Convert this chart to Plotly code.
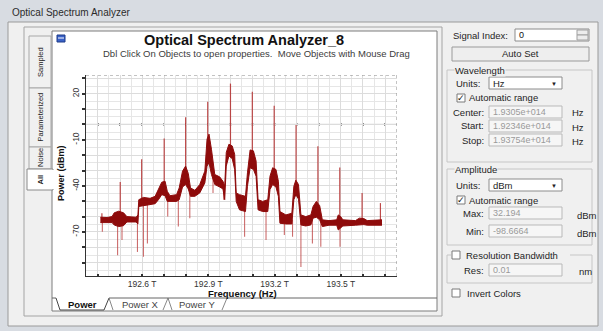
import plotly.graph_objects as go

# ---------------- spectrum data (frequency in THz, power in dBm) ----------------
# envelope of the dense measured trace
band_freq = [192.411, 192.441, 192.464, 192.474, 192.494, 192.516, 192.531, 192.573, 192.581, 192.585,
             192.606, 192.636, 192.659, 192.674, 192.689, 192.704, 192.714, 192.726, 192.756, 192.768,
             192.783, 192.797, 192.809, 192.819, 192.839, 192.861, 192.884, 192.894, 192.903, 192.914,
             192.929, 192.951, 192.966, 192.974, 192.981, 192.993, 193.008, 193.019, 193.026, 193.041,
             193.068, 193.077, 193.089, 193.104, 193.116, 193.125, 193.146, 193.169, 193.179, 193.191,
             193.206, 193.217, 193.224, 193.251, 193.278, 193.287, 193.296, 193.308, 193.319, 193.341,
             193.364, 193.374, 193.389, 193.404, 193.416, 193.446, 193.481, 193.488, 193.499, 193.509,
             193.566, 193.584, 193.604, 193.619, 193.686]
band_upper = [-60.4, -60.6, -60.0, -57.5, -56.5, -57.5, -60.0, -60.4, -58.9, -49.0,
              -47.5, -48.1, -46.8, -42.0, -37.6, -37.0, -43.5, -46.4, -45.7, -41.3,
              -30.4, -27.1, -31.9, -41.3, -42.9, -39.1, -30.4, -9.6, -6.3, -16.2,
              -32.6, -34.1, -37.0, -40.2, -18.3, -12.9, -14.0, -19.4, -44.6, -45.7,
              -46.8, -31.5, -16.6, -17.2, -23.8, -49.0, -50.1, -49.0, -33.7, -28.2,
              -29.3, -37.0, -56.7, -58.9, -57.8, -40.2, -36.3, -39.1, -58.9, -60.0,
              -58.9, -53.4, -50.1, -52.9, -62.1, -62.6, -62.1, -58.9, -60.0, -62.1,
              -62.6, -61.0, -61.3, -62.6, -62.1]
band_lower = [-63.9, -63.7, -63.9, -65.5, -66.5, -65.9, -63.5, -63.5, -64.8, -53.4,
              -52.9, -52.5, -51.6, -49.0, -45.7, -46.4, -50.1, -50.1, -50.1, -49.0,
              -40.7, -39.1, -42.0, -46.8, -46.8, -44.6, -38.1, -27.1, -24.9, -32.6,
              -39.1, -40.7, -42.0, -49.0, -27.1, -20.5, -22.3, -29.3, -50.1, -55.6,
              -56.7, -40.2, -28.2, -29.3, -33.7, -55.6, -56.7, -56.7, -42.4, -39.1,
              -40.7, -46.8, -64.3, -64.8, -64.8, -49.0, -45.7, -48.6, -65.4, -66.1,
              -65.4, -61.0, -60.4, -62.1, -66.5, -65.6, -65.6, -68.7, -67.6, -66.1,
              -65.6, -65.2, -65.2, -65.6, -65.6]

# carrier lines rising above the trace
carrier_freq = [192.418, 192.501, 192.598, 192.700, 192.797, 192.897, 193.000,
                193.099, 193.198, 193.297, 193.396, 193.495, 193.596, 193.679]
carrier_top = [-57.8, -37.4, -22.7, -9.1, 4.7, 14.7, 26.6,
               21.3, 12.1, -0.4, -14.2, -28.0, -44.6, -51.2]
carrier_base = [-62, -60, -50, -42, -33, -16, -17,
                -22, -35, -41, -55, -63, -63, -64]

# narrow dips falling below the trace
dip_freq = [192.420, 192.489, 192.509, 192.579, 192.606, 192.624, 192.716, 192.764, 192.816, 192.921,
            192.969, 193.064, 193.161, 193.244, 193.281, 193.319, 193.371, 193.409, 193.496]
dip_start = [-62, -62, -62, -62, -50, -50, -47, -47, -44, -32,
             -40, -52, -53, -62, -62, -62, -62, -61, -64]
dip_bottom = [-69.8, -85.1, -75.3, -83.0, -86.2, -77.5, -60.0, -66.5, -61.0, -44.6,
              -49.0, -73.1, -75.3, -72.0, -73.1, -92.8, -77.5, -79.7, -79.7]

# axis settings
x_range = [192.346, 193.754]
y_range = [-98.6664, 32.194]
x_ticks = [192.4, 192.5, 192.6, 192.7, 192.8, 192.9, 193.0, 193.1, 193.2, 193.3, 193.4, 193.5, 193.6, 193.7]
x_labels = ["", "", "192.6 T", "", "", "192.9 T", "", "", "193.2 T", "", "", "193.5 T", "", ""]
y_ticks = [-90, -80, -70, -60, -50, -40, -30, -20, -10, 0, 10, 20, 30]
y_labels = ["", "", "-70", "", "", "-40", "", "", "-10", "", "", "20", ""]

# ---------------- page geometry helpers ----------------
W, H = 603, 331
UI = "Liberation Sans, Arial, sans-serif"


def px(x):
    return x / W


def py(y):
    return 1 - y / H


shapes, notes = [], []


def rect(x0, y0, x1, y1, fill="rgba(0,0,0,0)", line=None, lw=1, layer="below"):
    shapes.append(dict(type="rect", xref="paper", yref="paper",
                       x0=px(x0), x1=px(x1), y0=py(y1), y1=py(y0),
                       fillcolor=fill, layer=layer,
                       line=dict(color=line or "rgba(0,0,0,0)", width=lw if line else 0)))


def seg(x0, y0, x1, y1, color="#888", lw=1, dash="solid", layer="above"):
    shapes.append(dict(type="line", xref="paper", yref="paper",
                       x0=px(x0), x1=px(x1), y0=py(y0), y1=py(y1), layer=layer,
                       line=dict(color=color, width=lw, dash=dash)))


def label(x, y, s, size=9.5, color="#1e1e1e", anchor="left", angle=0, bold=False, bg=None):
    d = dict(xref="paper", yref="paper", x=px(x), y=py(y), showarrow=False,
             text=f"<b>{s}</b>" if bold else s, xanchor=anchor, yanchor="middle",
             textangle=angle, borderpad=0,
             font=dict(size=size, color=color, family=UI))
    if bg:
        d["bgcolor"] = bg
    notes.append(d)


def checkbox(x, y, checked):
    rect(x, y - 4, x + 8, y + 4, fill="white", line="#7a7a7a", layer="above")
    if checked:
        label(x + 4, y, "✓", size=9, color="#111", anchor="center")


def field(x0, y0, x1, y1, s, enabled=False):
    rect(x0, y0, x1, y1, fill="white" if enabled else "#f6f6f6",
         line="#8c8c8c" if enabled else "#b9b9b9", layer="above")
    label(x0 + 3, (y0 + y1) / 2, s, size=9, color="#111" if enabled else "#9a9a9a")


def dropdown(x0, y0, x1, y1, s):
    rect(x0, y0, x1, y1, fill="white", line="#8c8c8c", layer="above")
    label(x0 + 3, (y0 + y1) / 2, s, size=9.5)
    label(x1 - 8, (y0 + y1) / 2 + 1, "▼", size=6, color="#222", anchor="center")


# ---------------- window chrome ----------------
rect(0, 0, 603, 22, fill="#d8dce2")
label(11, 12, "Optical Spectrum Analyzer", size=10, color="#2b2b2b")
rect(0, 22, 8, 331, fill="#d8dce2")
rect(598, 22, 603, 331, fill="#d8dce2")
rect(0, 326, 603, 331, fill="#d8dce2")
rect(8, 22, 598, 326, fill="#f0f0f0", line="#9a9a9a")
rect(24, 27, 442, 316, fill="#f0f0f0", line="#a4a4a4")
rect(52, 31, 437, 311, fill="white", line="#7c7c7c")

# vertical view tabs
for name, y0, y1, sel in [("Sampled", 36, 88, False), ("Parameterized", 88, 147, False),
                          ("Noise", 147, 169, False), ("All", 169, 190, True)]:
    if sel:
        rect(27, y0, 53, y1, fill="white", line="#8a8a8a", layer="above")
        rect(51, y0 + 1, 54, y1 - 1, fill="white", layer="above")
    else:
        rect(29, y0, 51, y1, fill="#f0f0f0", line="#a8a8a8", layer="above")
    label(40, (y0 + y1) / 2, name, size=7.5, angle=-90, anchor="center", bold=sel, color="#222")

# panel heading
rect(57, 35, 65, 42, fill="#3a62c8", line="#1d3a88", layer="above")
seg(58, 38, 64, 38, color="white")
label(244, 40, "Optical Spectrum Analyzer_8", size=14.5, bold=True, anchor="center", color="#111")
label(256, 53, "Dbl Click On Objects to open properties.  Move Objects with Mouse Drag",
      size=9.5, anchor="center", color="#3c3c3c")

# bottom sheet tabs
seg(52, 298, 56, 298, color="#666")
seg(56, 298, 60, 310, color="#444")
seg(104, 310, 109, 298, color="#444")
seg(109, 298, 113, 310, color="#888")
seg(163, 310, 168, 298, color="#888")
seg(168, 298, 172, 310, color="#888")
seg(222, 310, 227, 298, color="#888")
seg(109, 298, 437, 298, color="#666")
seg(60, 310, 104, 310, color="#444")
label(82, 304, "Power", size=9.5, bold=True, anchor="center", color="#111")
label(140, 304, "Power X", size=9.5, anchor="center", color="#444")
label(197, 304, "Power Y", size=9.5, anchor="center", color="#444")

# axis titles
label(61, 173, "Power (dBm)", size=9, bold=True, angle=-90, anchor="center", color="#111")
label(242, 293.5, "Frequency (Hz)", size=9.5, bold=True, anchor="center", color="#111")

# ---------------- right-hand control panel ----------------
label(452, 35, "Signal Index:", size=9.5)
field(515, 29, 589, 41, "0", enabled=True)
rect(577, 30, 588, 35, fill="#ececec", line="#a0a0a0", layer="above")
rect(577, 35, 588, 40, fill="#ececec", line="#a0a0a0", layer="above")
rect(452, 47, 589, 61, fill="#eeeeee", line="#9a9a9a", layer="above")
label(520, 54, "Auto Set", size=9.5, anchor="center")

rect(447, 70, 592, 162, line="#c6c6c6")
label(454, 70, "Wavelength", size=9.5, bg="#f0f0f0")
label(455, 83, "Units:", size=9.5)
dropdown(489, 77, 562, 89, "Hz")
checkbox(457, 98, True)
label(468, 98, "Automatic range", size=9.5)
for name, y, val in [("Center:", 112, "1.9305e+014"), ("Start:", 126, "1.92346e+014"),
                     ("Stop:", 140, "1.93754e+014")]:
    label(485, y, name, size=9.5, anchor="right")
    field(489, y - 6, 562, y + 6, val)
    label(571, y + 1, "Hz", size=9.5)

rect(447, 169, 592, 245, line="#c6c6c6")
label(454, 169, "Amplitude", size=9.5, bg="#f0f0f0")
label(455, 185, "Units:", size=9.5)
dropdown(489, 179, 562, 191, "dBm")
checkbox(457, 200, True)
label(468, 200, "Automatic range", size=9.5)
for name, y, val in [("Max:", 213, "32.194"), ("Min:", 231, "-98.6664")]:
    label(485, y, name, size=9.5, anchor="right")
    field(489, y - 6, 562, y + 6, val)
    label(576, y + 2, "dBm", size=9.5)

rect(447, 255, 592, 283, line="#c6c6c6")
rect(451, 250, 570, 260, fill="#f0f0f0", layer="above")
checkbox(452, 255, False)
label(465, 255, "Resolution Bandwidth", size=9.5)
label(485, 270, "Res:", size=9.5, anchor="right")
field(489, 264, 562, 276, "0.01")
label(578, 271, "nm", size=9.5)

checkbox(452, 293, False)
label(466, 293, "Invert Colors", size=9.5)

# ---------------- traces ----------------
red = "#8e0b0b"
spike_x, spike_y = [], []
for f, b, t in zip(carrier_freq, carrier_base, carrier_top):
    spike_x += [f, f, None]
    spike_y += [b, t, None]
dip_x, dip_y = [], []
for f, s, b in zip(dip_freq, dip_start, dip_bottom):
    dip_x += [f, f, None]
    dip_y += [s, b, None]

fig = go.Figure()
fig.add_trace(go.Scatter(x=spike_x, y=spike_y, mode="lines", line=dict(color="#b32b2b", width=1.2),
                         opacity=0.85, hoverinfo="skip"))
fig.add_trace(go.Scatter(x=dip_x, y=dip_y, mode="lines", line=dict(color="#c04848", width=1.1),
                         opacity=0.8, hoverinfo="skip"))
fig.add_trace(go.Scatter(x=band_freq, y=band_lower, mode="lines", line=dict(color=red, width=1),
                         hoverinfo="skip"))
fig.add_trace(go.Scatter(x=band_freq, y=band_upper, mode="lines", line=dict(color=red, width=1),
                         fill="tonexty", fillcolor=red, hoverinfo="skip"))

# zero reference line with tick dots, dotted frame on top and right
shapes.append(dict(type="line", xref="x", yref="y", x0=x_range[0], x1=x_range[1], y0=0, y1=0,
                   line=dict(color="#555", width=1), layer="below"))
for t in x_ticks:
    shapes.append(dict(type="line", xref="x", yref="y", x0=t, x1=t, y0=-0.8, y1=0.8,
                       line=dict(color="#333", width=1.5), layer="below"))
shapes.append(dict(type="line", xref="x", yref="y", x0=x_range[0], x1=x_range[1],
                   y0=y_range[1], y1=y_range[1], line=dict(color="#888", width=1, dash="dot")))
shapes.append(dict(type="line", xref="x", yref="y", x0=x_range[1], x1=x_range[1],
                   y0=y_range[0], y1=y_range[1], line=dict(color="#888", width=1, dash="dot")))

fig.update_layout(
    width=W, height=H, margin=dict(l=0, r=0, t=0, b=0),
    paper_bgcolor="#f0f0f0", plot_bgcolor="white", showlegend=False,
    shapes=shapes, annotations=notes,
    xaxis=dict(domain=[px(86), px(397)], range=x_range, tickmode="array",
               tickvals=x_ticks, ticktext=x_labels, ticks="inside", ticklen=2, tickwidth=2,
               tickcolor="#333", showline=True, linecolor="#333", linewidth=1,
               showgrid=True, gridcolor="#dcdcdc", gridwidth=1, zeroline=False,
               minor=dict(dtick=0.05, tick0=192.35, showgrid=True, gridcolor="#e6e6e6"),
               tickfont=dict(family=UI, size=8.5, color="#333")),
    yaxis=dict(domain=[py(276), py(75)], range=y_range, tickmode="array",
               tickvals=y_ticks, ticktext=y_labels, ticks="outside", ticklen=3, tickwidth=2,
               tickcolor="#333", tickangle=-90, showline=True, linecolor="#333", linewidth=1,
               showgrid=True, gridcolor="#dcdcdc", gridwidth=1, zeroline=False,
               minor=dict(dtick=5, tick0=0, showgrid=True, gridcolor="#e6e6e6"),
               tickfont=dict(family=UI, size=8.5, color="#333")),
)

fig.write_html("out.html")
